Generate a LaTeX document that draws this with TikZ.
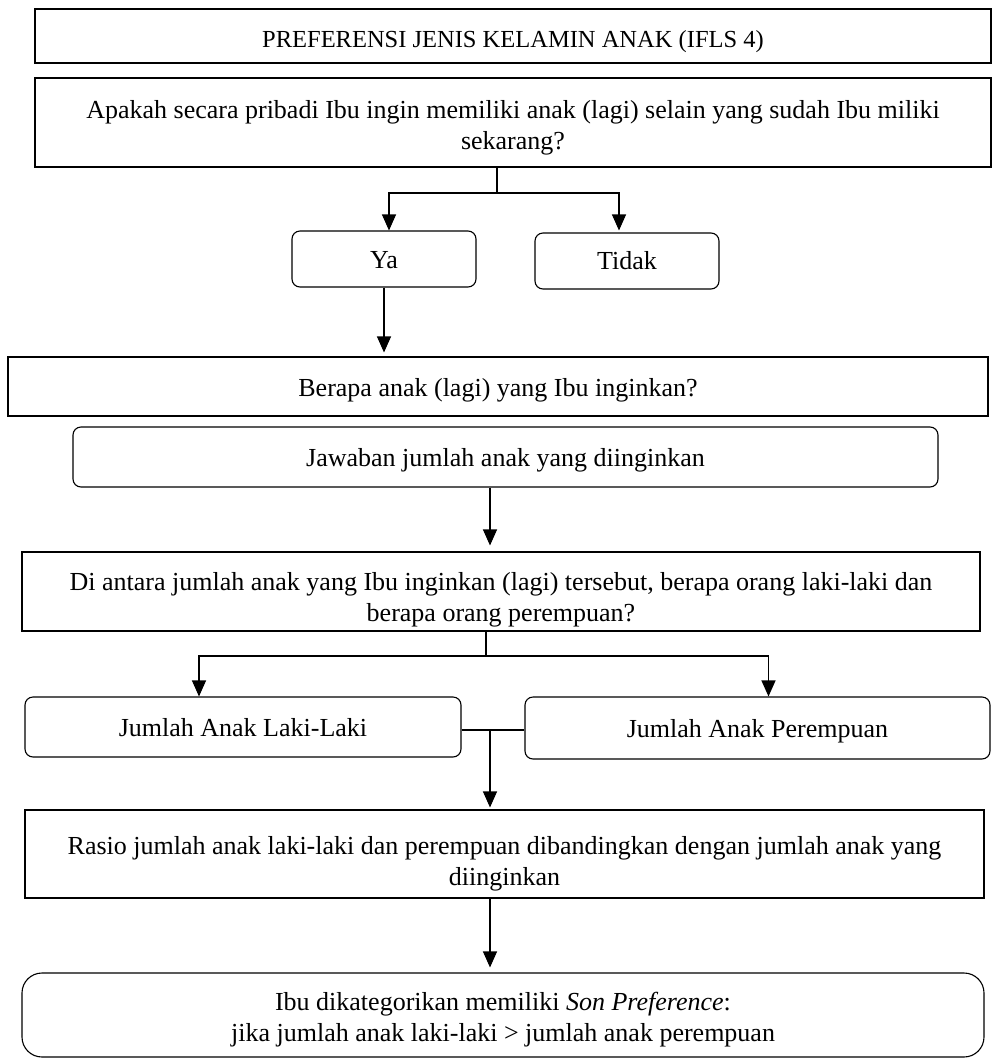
\documentclass[tikz,border=0pt]{standalone}
\usepackage{fontspec}
\setmainfont{Liberation Serif}
\usetikzlibrary{arrows.meta,calc}
\newcommand\dn[2]{\raisebox{-#1}[\height][\depth]{\begin{tabular}{@{}c@{}}#2\end{tabular}}}
\begin{document}
\begin{tikzpicture}[x=1pt,y=-1pt,
  box/.style={draw, line width=1.1pt, align=center, inner sep=0pt, font=\fontsize{26}{31}\selectfont},
  rbox/.style={box, rounded corners=8pt},
  conn/.style={line width=1.1pt},
  arr/.style={line width=1.1pt, -{Triangle[width=14pt,length=16pt]}}]
\useasboundingbox (0,0) rectangle (992,1058);
\node[box, font=\fontsize{24.5}{31}\selectfont, minimum width=956pt, minimum height=54pt] (title) at (513,36) {\dn{5pt}{PREFERENSI JENIS KELAMIN ANAK (IFLS 4)}};
\node[box, minimum width=956pt, minimum height=89pt] (q) at (513,122.5) {\dn{5pt}{Apakah secara pribadi Ibu ingin memiliki anak (lagi) selain yang sudah Ibu miliki\\sekarang?}};
\node[rbox, minimum width=184pt, minimum height=56pt] (ya) at (384,259) {\dn{3pt}{Ya}};
\node[rbox, minimum width=184pt, minimum height=56pt] (tidak) at (627,261) {\dn{2pt}{Tidak}};
\node[box, minimum width=980pt, minimum height=59pt] (berapa) at (498,386.5) {\dn{4pt}{Berapa anak (lagi) yang Ibu inginkan?}};
\node[rbox, minimum width=865pt, minimum height=60pt] (jawab) at (505.5,457) {\dn{3pt}{Jawaban jumlah anak yang diinginkan}};
\node[box, minimum width=958pt, minimum height=79pt] (antara) at (501,591.5) {\dn{8pt}{Di antara jumlah anak yang Ibu inginkan (lagi) tersebut, berapa orang laki-laki dan\\berapa orang perempuan?}};
\node[rbox, minimum width=436pt, minimum height=60pt] (laki) at (243,727) {\dn{3pt}{Jumlah Anak Laki-Laki}};
\node[rbox, minimum width=465pt, minimum height=62pt] (per) at (757.5,728) {\dn{3pt}{Jumlah Anak Perempuan}};
\node[box, minimum width=959pt, minimum height=88pt] (rasio) at (504.5,854) {\dn{10pt}{Rasio jumlah anak laki-laki dan perempuan dibandingkan dengan jumlah anak yang\\diinginkan}};
\node[box, rounded corners=20pt, minimum width=962pt, minimum height=84pt] (final) at (503,1015) {\dn{5pt}{Ibu dikategorikan memiliki \textit{Son Preference}:\\jika jumlah anak laki-laki > jumlah anak perempuan}};
% connectors
\coordinate (j1) at (497,193);
\draw[conn] (q.south -| j1) -- (j1);
\draw[arr] (j1) -| ($(ya.north)+(5,0)$);
\draw[arr] (j1) -| ($(tidak.north)+(-8,-2)$);
\draw[arr, shorten >=4pt] (ya.south) -- (ya.south |- berapa.north);
\draw[arr, shorten >=6pt] (jawab.south -| 490,0) -- (antara.north -| 490,0);
\coordinate (j2) at (486,656);
\draw[conn] (antara.south -| j2) -- (j2);
\draw[arr] (j2) -| ($(laki.north)+(-44,0)$);
\draw[arr] (j2) -| ($(per.north)+(11,0)$);
\coordinate (j3) at (490,730);
\draw[conn] (laki.east |- j3) -- (per.west |- j3);
\draw[arr, shorten >=2pt] (j3) -- (rasio.north -| j3);
\draw[arr, shorten >=5pt] (rasio.south -| 490,0) -- (final.north -| 490,0);
\end{tikzpicture}
\end{document}
